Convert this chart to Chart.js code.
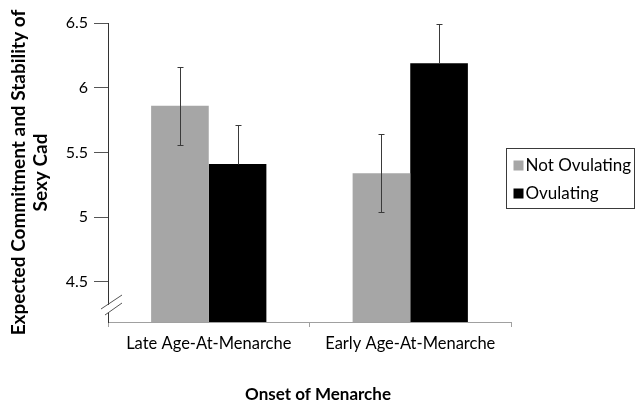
<!DOCTYPE html>
<html>
<head>
<meta charset="utf-8">
<script src="https://cdn.jsdelivr.net/npm/chart.js@4.4.1/dist/chart.umd.min.js"></script>
<style>
  html, body { margin: 0; padding: 0; background: #ffffff; }
  #wrap { width: 636px; height: 406px; }
</style>
</head>
<body>
<div id="wrap"><canvas id="c" width="636" height="406"></canvas></div>
<script>
// Group labels along the x axis
const categories = ['Late Age-At-Menarche', 'Early Age-At-Menarche'];
// Series names
const seriesNames = ['Not Ovulating', 'Ovulating'];
// Mean ratings per group
const notOvulating = [5.86, 5.34];
const ovulating = [5.41, 6.19];
// Error bar half-widths
const notOvulatingErr = [0.30, 0.30];
const ovulatingErr = [0.30, 0.30];
// Y axis tick values
const yTicks = [4.5, 5, 5.5, 6, 6.5];
// Axis titles
const xTitle = 'Onset of Menarche';
const yTitle = ['Expected Commitment and Stability of', 'Sexy Cad'];

const FONT = 'Lato, "Liberation Sans", sans-serif';
const barColors = ['#a6a6a6', '#000000'];

// Error bars, axis break marks, x title and boxed legend
const extras = {
  id: 'extras',
  afterDatasetsDraw(chart) {
    const ctx = chart.ctx;
    const y = chart.scales.y;
    const errs = [notOvulatingErr, ovulatingErr];
    ctx.save();
    ctx.lineWidth = 1;
    ctx.strokeStyle = '#3a3a3a';
    chart.data.datasets.forEach((ds, di) => {
      const meta = chart.getDatasetMeta(di);
      // the lower whisker disappears inside a black bar
      const showLower = barColors[di] !== '#000000';
      meta.data.forEach((bar, i) => {
        const v = ds.data[i];
        const e = errs[di][i];
        const x = Math.round(bar.x) + 0.5;
        const yt = Math.round(y.getPixelForValue(v + e)) + 0.5;
        const ym = Math.round(y.getPixelForValue(v)) + 0.5;
        const yb = Math.round(y.getPixelForValue(v - e)) + 0.5;
        ctx.beginPath();
        ctx.moveTo(x, yt); ctx.lineTo(x, showLower ? yb : ym);
        ctx.moveTo(x - 3, yt); ctx.lineTo(x + 3, yt);
        if (showLower) { ctx.moveTo(x - 3, yb); ctx.lineTo(x + 3, yb); }
        ctx.stroke();
      });
    });
    ctx.restore();
  },
  afterDraw(chart) {
    const ctx = chart.ctx;
    const area = chart.chartArea;
    ctx.save();
    // axis break marks
    const ax = area.left;
    const by = area.bottom - 15;
    ctx.fillStyle = '#ffffff';
    ctx.fillRect(ax - 1, by - 2, 3, 7);
    ctx.strokeStyle = '#555555';
    ctx.lineWidth = 1;
    ctx.beginPath();
    ctx.moveTo(ax - 7, by + 2); ctx.lineTo(ax + 14, by - 12);
    ctx.moveTo(ax - 3, by + 8); ctx.lineTo(ax + 14, by - 4);
    ctx.stroke();

    // x axis title
    ctx.fillStyle = '#000000';
    ctx.font = 'bold 17px ' + FONT;
    ctx.textAlign = 'center';
    ctx.textBaseline = 'middle';
    ctx.fillText(xTitle, 318, 395);

    // legend
    const lx = 506.5, ly = 148.5, lw = 128, lh = 60;
    ctx.strokeStyle = '#3a3a3a';
    ctx.strokeRect(lx, ly, lw, lh);
    ctx.font = '17px ' + FONT;
    ctx.textAlign = 'left';
    seriesNames.forEach((name, i) => {
      const cy = ly + 17 + i * 28;
      ctx.fillStyle = barColors[i];
      ctx.fillRect(lx + 7, cy - 5, 10, 10);
      ctx.fillStyle = '#000000';
      ctx.fillText(name, lx + 19, cy);
    });
    ctx.restore();
  }
};

new Chart(document.getElementById('c'), {
  type: 'bar',
  data: {
    labels: categories,
    datasets: [
      { label: seriesNames[0], data: notOvulating, backgroundColor: barColors[0], borderWidth: 0 },
      { label: seriesNames[1], data: ovulating, backgroundColor: barColors[1], borderWidth: 0 }
    ]
  },
  options: {
    responsive: false,
    animation: false,
    devicePixelRatio: 1,
    layout: { padding: { left: 0, right: 125, top: 23, bottom: 0 } },
    plugins: { legend: { display: false }, tooltip: { enabled: false } },
    datasets: { bar: { categoryPercentage: 0.572, barPercentage: 1.0 } },
    scales: {
      x: {
        grid: { display: true, drawOnChartArea: false, drawTicks: true, tickLength: 5, color: '#a0a0a0', offset: true },
        border: { display: true, color: '#a0a0a0', width: 1 },
        ticks: { color: '#000000', font: { family: FONT, size: 16.5 }, padding: 7, maxRotation: 0 },
        title: { display: false },
        afterFit(scale) { scale.height = 84; }
      },
      y: {
        min: 4.19,
        max: 6.5,
        afterBuildTicks(scale) { scale.ticks = yTicks.map(v => ({ value: v })); },
        grid: { display: true, drawOnChartArea: false, drawTicks: true, tickLength: 14, color: '#555555' },
        border: { display: true, color: '#333333', width: 1 },
        ticks: { color: '#000000', font: { family: FONT, size: 16 }, padding: 6, callback: v => String(v) },
        title: { display: true, text: yTitle, color: '#000000', font: { family: FONT, size: 19, weight: 'bold', lineHeight: 1.16 }, padding: { top: 8, bottom: 0 } },
        afterFit(scale) { scale.width = 108; }
      }
    }
  },
  plugins: [extras]
});
</script>
</body>
</html>
